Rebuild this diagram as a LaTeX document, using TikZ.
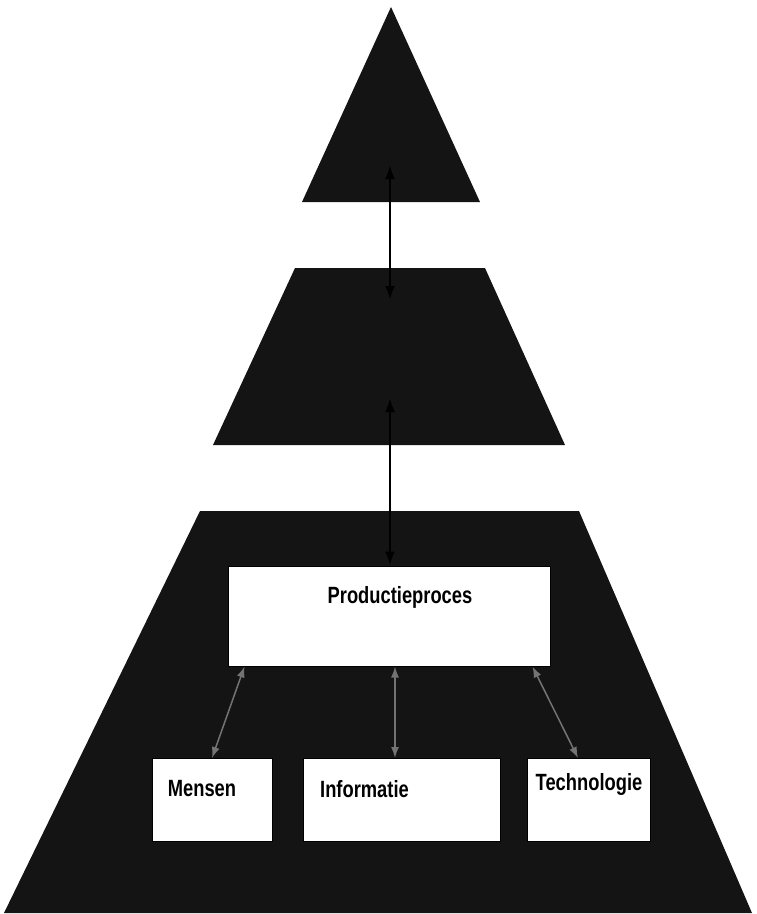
\documentclass[tikz,border=0pt]{standalone}
\usepackage{fontspec}
\setmainfont{Liberation Sans}[FakeStretch=0.78]
\usetikzlibrary{arrows.meta, positioning}

\begin{document}
\begin{tikzpicture}[x=1pt, y=-1pt,
    level/.style={fill=black!92},
    box/.style={draw=black, line width=1pt, fill=white, inner sep=0pt},
    lbl/.style={inner sep=0pt, font=\fontsize{23.5}{28}\selectfont\bfseries},
    updown/.style={{Latex[length=14pt,width=10pt]}-{Latex[length=14pt,width=10pt]}, line width=2.5pt},
    link/.style={{Latex[length=11pt,width=8pt]}-{Latex[length=11pt,width=8pt]}, draw=black!55, line width=1.5pt}]
    \useasboundingbox[fill=white] (0,0) rectangle (756,914);
    % de drie niveaus
    \fill[level] (391,7) -- (480,202) -- (302,202) -- cycle;
    \fill[level] (295,268) -- (485,268) -- (565,445) -- (213,445) -- cycle;
    \fill[level] (200,511) -- (579,511) -- (752,913) -- (4,913) -- cycle;
    % blokken
    \node[box, minimum width=322, minimum height=100] (pp) at (389,616) {};
    \node[box, minimum width=120, minimum height=83] (mensen) at (212,800) {};
    \node[box, minimum width=197, minimum height=83] (info) at (402,800) {};
    \node[box, minimum width=123, minimum height=83] (tech) at (589,800) {};
    \node[lbl] (ppT) at ([xshift=11,yshift=-32]pp.north) {Productieproces};
    \node[lbl] (mensenT) at ([xshift=-10,yshift=-31]mensen.north) {Mensen};
    \node[lbl, anchor=west] (infoT) at ([xshift=17,yshift=-31]info.north west) {Informatie};
    \node[lbl] (techT) at ([yshift=-26]tech.north) {Technologie};
    % verbindingen
    \coordinate (topTip) at (390,165);
    \coordinate (midUp) at (390,300);
    \coordinate (midDown) at (390,398);
    \draw[updown] (topTip) -- (midUp);
    \draw[updown] (midDown) -- (midDown |- pp.north);
    \draw[link] ([xshift=17]pp.south west) -- (mensen.north);
    \draw[link] ([xshift=6]pp.south) -- ([xshift=-7]info.north);
    \draw[link] ([xshift=-18]pp.south east) -- ([xshift=-11]tech.north);
\end{tikzpicture}
\end{document}
